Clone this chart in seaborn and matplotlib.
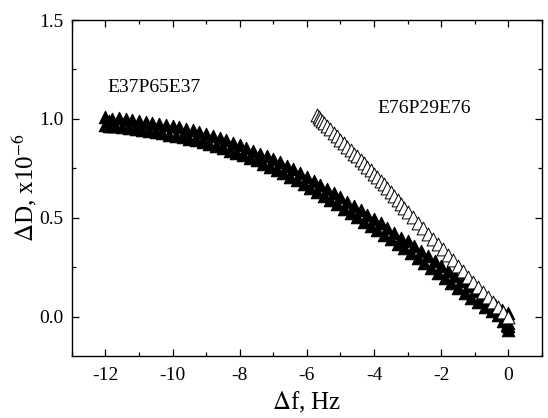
import numpy as np
import pandas as pd
import matplotlib
matplotlib.use("Agg")
import matplotlib.pyplot as plt
import seaborn as sns
from matplotlib.ticker import MultipleLocator

# E37P65E37 (filled triangles) - upper edge of the band
f1 = [-12.0, -11.9, -11.8, -11.6, -11.4, -11.2, -11.0, -10.8, -10.6, -10.4, -10.2, -10.0,
      -9.8, -9.6, -9.4, -9.2, -9.0, -8.8, -8.6, -8.4, -8.2, -8.0,
      -7.8, -7.6, -7.4, -7.2, -7.0, -6.8, -6.6, -6.4, -6.2, -6.0,
      -5.8, -5.6, -5.4, -5.2, -5.0, -4.8, -4.6, -4.4, -4.2, -4.0,
      -3.8, -3.6, -3.4, -3.2, -3.0, -2.8, -2.6, -2.4, -2.2, -2.0,
      -1.8, -1.6, -1.4, -1.2, -1.0, -0.8, -0.6, -0.4, -0.2, -0.1, 0.0, 0.0, 0.0]
d1 = [1.01, 0.99, 1.00, 1.005, 1.0, 0.995, 0.99, 0.985, 0.98, 0.975, 0.97, 0.965,
      0.96, 0.95, 0.945, 0.935, 0.925, 0.915, 0.905, 0.895, 0.88, 0.87,
      0.855, 0.84, 0.825, 0.81, 0.795, 0.78, 0.76, 0.745, 0.725, 0.705,
      0.685, 0.665, 0.645, 0.625, 0.605, 0.58, 0.56, 0.54, 0.515, 0.495,
      0.475, 0.45, 0.425, 0.40, 0.38, 0.355, 0.33, 0.305, 0.28, 0.255,
      0.23, 0.205, 0.18, 0.155, 0.13, 0.105, 0.085, 0.06, 0.035, 0.01, 0.02, -0.03, -0.05]

# E37P65E37 - lower edge of the band and end clusters
f1b = [-12.0, -11.9, -11.8, -11.7, -11.5, -11.3, -11.1, -10.9, -10.7, -10.5, -10.3, -10.1,
       -9.9, -9.7, -9.5, -9.3, -9.1, -8.9, -8.7, -8.5, -8.3, -8.1,
       -7.9, -7.7, -7.5, -7.3, -7.1, -6.9, -6.7, -6.5, -6.3, -6.1,
       -5.9, -5.7, -5.5, -5.3, -5.1, -4.9, -4.7, -4.5, -4.3, -4.1,
       -3.9, -3.7, -3.5, -3.3, -3.1, -2.9, -2.7, -2.5, -2.3, -2.1,
       -1.9, -1.7, -1.5, -1.3, -1.1, -0.9, -0.7, -0.5, -0.3, -0.15, -0.05, 0.0]
d1b = [0.97, 0.965, 0.965, 0.965, 0.96, 0.955, 0.95, 0.945, 0.94, 0.935, 0.93, 0.92,
       0.915, 0.91, 0.90, 0.895, 0.885, 0.875, 0.865, 0.855, 0.84, 0.83,
       0.815, 0.80, 0.79, 0.77, 0.755, 0.74, 0.725, 0.705, 0.69, 0.67,
       0.65, 0.63, 0.61, 0.59, 0.57, 0.545, 0.525, 0.505, 0.48, 0.46,
       0.44, 0.415, 0.39, 0.365, 0.345, 0.32, 0.295, 0.27, 0.245, 0.22,
       0.195, 0.17, 0.145, 0.12, 0.095, 0.075, 0.05, 0.03, 0.01, -0.02, -0.04, -0.07]

# E76P29E76 (open triangles)
f2 = [-5.70, -5.65, -5.6, -5.55, -5.5, -5.4, -5.3, -5.2, -5.1, -5.0,
      -4.9, -4.8, -4.7, -4.6, -4.5, -4.4, -4.3, -4.2, -4.1, -4.0,
      -3.9, -3.8, -3.7, -3.6, -3.5, -3.4, -3.3, -3.2, -3.1, -3.0,
      -2.85, -2.7, -2.55, -2.4, -2.25, -2.1, -1.95, -1.8, -1.65, -1.5,
      -1.35, -1.2, -1.05, -0.9, -0.75, -0.6, -0.45, -0.3, -0.15, 0.0]
d2 = [1.02, 1.01, 1.00, 0.99, 0.98, 0.965, 0.95, 0.93, 0.915, 0.895,
      0.88, 0.86, 0.845, 0.825, 0.81, 0.79, 0.775, 0.755, 0.74, 0.72,
      0.705, 0.685, 0.67, 0.65, 0.63, 0.61, 0.59, 0.57, 0.55, 0.53,
      0.505, 0.475, 0.45, 0.42, 0.395, 0.365, 0.34, 0.31, 0.285, 0.255,
      0.23, 0.20, 0.175, 0.15, 0.125, 0.10, 0.075, 0.05, 0.025, 0.0]

labels = ["E37P65E37", "E76P29E76"]

sns.set_style("ticks")
plt.rcParams["font.family"] = ["Liberation Serif", "DejaVu Serif"]
plt.rcParams["mathtext.fontset"] = "stix"
plt.rcParams["axes.unicode_minus"] = False
for k in ["text.color", "axes.labelcolor", "xtick.color", "ytick.color", "axes.edgecolor"]:
    plt.rcParams[k] = "black"

fig = plt.figure(figsize=(5.48, 4.18), dpi=100)
ax = fig.add_axes([0.131, 0.148, 0.858, 0.804])

df1 = pd.DataFrame({"f": f1 + f1b, "D": d1 + d1b})
df2 = pd.DataFrame({"f": f2, "D": d2})

sns.scatterplot(data=df1, x="f", y="D", marker="^", s=80, color="black",
                edgecolor="black", linewidth=0.8, ax=ax, zorder=3)
sns.scatterplot(data=df2, x="f", y="D", marker="^", s=85, facecolor="white",
                edgecolor="black", linewidth=0.7, ax=ax, zorder=4)

ax.text(-11.95, 1.16, labels[0], fontsize=14, va="center", ha="left")
ax.text(-3.9, 1.055, labels[1], fontsize=14, va="center", ha="left")

ax.set_xlim(-13, 1)
ax.set_ylim(-0.2, 1.5)
ax.xaxis.set_major_locator(MultipleLocator(2))
ax.xaxis.set_minor_locator(MultipleLocator(1))
ax.yaxis.set_major_locator(MultipleLocator(0.5))
ax.yaxis.set_minor_locator(MultipleLocator(0.25))
ax.yaxis.set_major_formatter(matplotlib.ticker.FormatStrFormatter("%.1f"))
ax.tick_params(which="both", direction="in", top=True, right=True, labelsize=14,
               color="black")
ax.tick_params(which="major", length=5, width=0.9)
ax.tick_params(axis="x", which="major", pad=8)
ax.tick_params(axis="y", which="major", pad=6)
ax.tick_params(which="minor", length=3, width=0.9)
for s in ax.spines.values():
    s.set_linewidth(1.0)
    s.set_color("black")

ax.set_xlabel(r"$\Delta$f, Hz", fontsize=18, labelpad=4)
ax.set_ylabel(r"$\Delta$D, x10$^{-6}$", fontsize=18, labelpad=0)

fig.savefig("out.png", dpi=100)
